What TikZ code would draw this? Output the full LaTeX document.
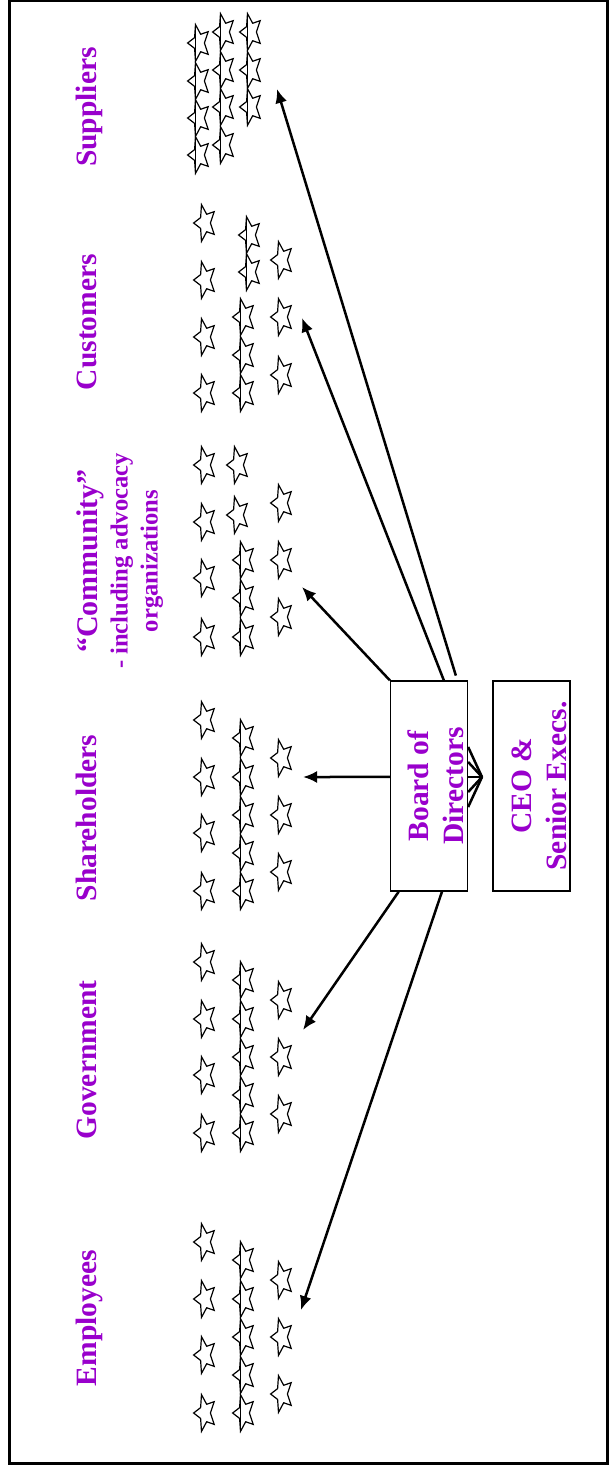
\documentclass[tikz,border=0pt]{standalone}
\usepackage{fontspec}
\setmainfont{Liberation Serif}
\usetikzlibrary{arrows.meta,shapes.geometric}

\definecolor{stakepurple}{RGB}{153,0,204}

\tikzset{
	stakelabel/.style={text=stakepurple, rotate=90,
		font=\bfseries\fontsize{14.75}{17.5}\selectfont},
	stakestar/.style={star, star points=5, star point ratio=2.1, draw,
		line width=0.6pt, inner sep=0pt, minimum size=19.3pt,
		rotate=90, yscale=0.59},
	chain/.style={line width=0.65pt, shorten <=-9.5pt, shorten >=-9.5pt},
	stakebox/.style={draw, line width=0.65pt, inner sep=0pt,
		minimum width=38.5pt, minimum height=105pt}
}

\begin{document}
\begin{tikzpicture}[x=0.5pt, y=-0.5pt]
	\useasboundingbox (0,0) rectangle (612,1468);
	\draw[line width=1.5pt] (9.5,0) rectangle (607.5,1463);

	% group names
	\begin{scope}[every node/.style={stakelabel, anchor=base}]
		\node (suplab) at (96,107) {Suppliers};
		\node (cuslab) at (96,322) {Customers};
		\node (shalab) at (96,818) {Shareholders};
		\node (govlab) at (96,1060) {Government};
		\node (emplab) at (96,1318) {Employees};
	\end{scope}
	\node[stakelabel, align=center, font=\bfseries\fontsize{12.3}{15}\selectfont]
		(comlab) at (120,561)
		{{\fontsize{15}{15}\selectfont “Community”}\\- including advocacy\\organizations};

	% the two boxes
	\node[stakebox] (board) at (429,786) {};
	\node[stakebox] (ceo) at (531.5,786) {};
	\node[stakelabel, align=center] (boardtext) at (435.3,786) {Board of\\Directors};
	\node[stakelabel, align=center] (ceotext) at (539,786) {CEO \&\\Senior Execs.};

	% stars
	\begin{scope}[every node/.style=stakestar]
		\foreach \y [count=\i] in {43,81,118,155} \node (supa\i) at (199,\y) {};
		\foreach \y [count=\i] in {32,70,107,145} \node (supb\i) at (224,\y) {};
		\foreach \y [count=\i] in {32,70,107} \node (supc\i) at (251,\y) {};

		\foreach \y [count=\i] in {223,280,337,393} \node (cusa\i) at (205,\y) {};
		\foreach \y [count=\i] in {235,272} \node (cusb\i) at (250,\y) {};
		\foreach \y [count=\i] in {317,355,393} \node (cusc\i) at (244,\y) {};
		\foreach \y [count=\i] in {260,317,375} \node (cusd\i) at (282,\y) {};

		\foreach \y [count=\i] in {465,522,578,637} \node (coma\i) at (205,\y) {};
		\foreach \y [count=\i] in {465,515} \node (comb\i) at (238,\y) {};
		\foreach \y [count=\i] in {560,598,637} \node (comc\i) at (244,\y) {};
		\foreach \y [count=\i] in {503,560,617} \node (comd\i) at (282,\y) {};

		\foreach \g/\b in {sha/720, gov/962, emp/1242}{
			\foreach \d [count=\i] in {0,57,113,171} \node (\g a\i) at (205,\b+\d) {};
			\foreach \d [count=\i] in {18,57,95,133,171} \node (\g b\i) at (244,\b+\d) {};
			\foreach \d [count=\i] in {38,95,152} \node (\g c\i) at (282,\b+\d) {};
		}
	\end{scope}
	\draw[chain] ([xshift=-1.7pt]supa1.center) -- ([xshift=-1.7pt]supa4.center);
	\draw[chain] ([xshift=-1.7pt]supb1.center) -- ([xshift=-1.7pt]supb4.center);
	\draw[chain] ([xshift=-1.7pt]supc1.center) -- ([xshift=-1.7pt]supc3.center);
	\draw[chain] ([xshift=-1.7pt]cusb1.center) -- ([xshift=-1.7pt]cusb2.center);
	\draw[chain] ([xshift=-1.7pt]cusc1.center) -- ([xshift=-1.7pt]cusc3.center);
	\draw[chain] ([xshift=-1.7pt]comc1.center) -- ([xshift=-1.7pt]comc3.center);
	\foreach \g in {sha,gov,emp}
		\draw[chain] ([xshift=-1.7pt]\g b1.center) -- ([xshift=-1.7pt]\g b5.center);

	% arrow ends
	\coordinate (supt) at (277,89);
	\coordinate (cust) at (302,318);
	\coordinate (comt) at (302,587);
	\coordinate (shat) at (303,777);
	\coordinate (govt) at (303,1030);
	\coordinate (empt) at (301,1310);
	\coordinate (fork) at (482,777);

	\begin{scope}[>={Latex[length=7pt,width=6pt]},
			every edge/.style={draw=black, line width=1.25pt}]
		\path [->] (board.75) edge[shorten <=2.5pt] (supt);
		\path [->] (board.82) edge (cust);
		\path [->] (board.north west) edge (comt);
		\path [->] (board.167) edge (shat);
		\path [->] (board.254) edge (govt);
		\path [->] (board.277) edge (empt);
		\foreach \dy in {19.5,12,4.5,-3,-10.5}
			\path (fork) edge ([yshift=\dy pt]board.east);
	\end{scope}
\end{tikzpicture}
\end{document}
